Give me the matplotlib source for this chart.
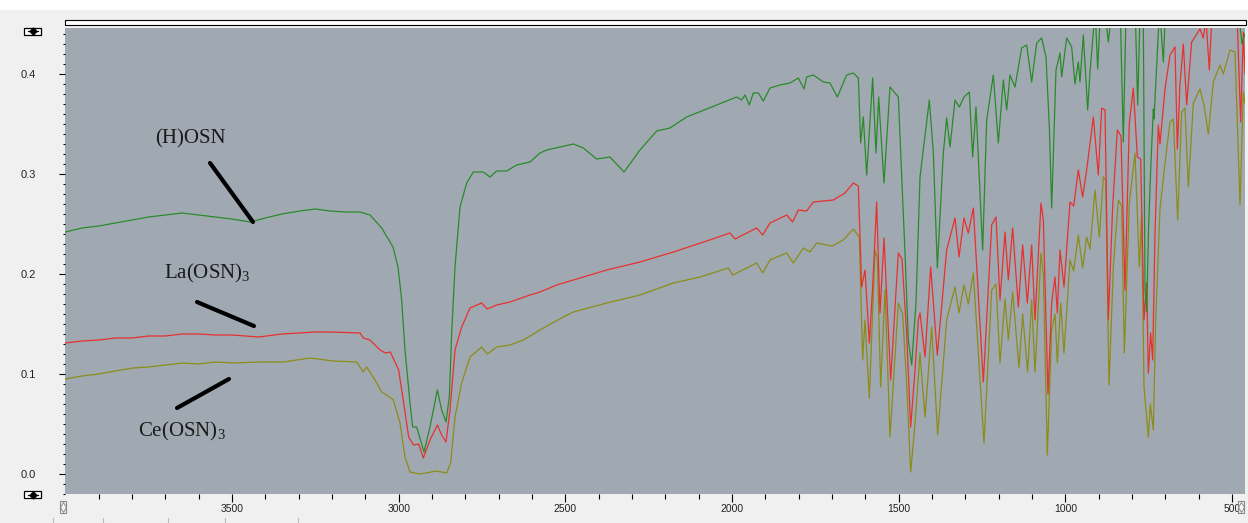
import numpy as np
import matplotlib.pyplot as plt
import matplotlib.patches as mpatches
from matplotlib.lines import Line2D
from matplotlib.ticker import MultipleLocator, FixedLocator, FormatStrFormatter

plt.rcParams['mathtext.fontset'] = 'custom'
plt.rcParams['mathtext.rm'] = 'Liberation Serif'
plt.rcParams['mathtext.default'] = 'regular'

# (H)OSN - green
hosn_wn = [4000, 3950, 3900, 3850, 3800, 3750, 3700, 3650, 3600, 3550, 3500, 3446, 3400, 3350,
           3296, 3250, 3206, 3160, 3116, 3086, 3051, 3017, 3002, 2991, 2981, 2966, 2958, 2946,
           2924, 2906, 2884, 2871, 2858, 2848, 2841, 2831, 2816, 2796, 2776, 2746, 2726, 2706,
           2676, 2646, 2606, 2576, 2556, 2476, 2446, 2406, 2366, 2324, 2276, 2226, 2186, 2136,
           2046, 1986, 1971, 1961, 1948, 1936, 1921, 1906, 1886, 1856, 1826, 1801, 1784, 1776,
           1756, 1726, 1706, 1684, 1656, 1636, 1621, 1614, 1606, 1596, 1578, 1568, 1560, 1544,
           1526, 1501, 1481, 1471, 1461, 1448, 1436, 1408, 1396, 1384, 1366, 1356, 1346, 1331,
           1318, 1304, 1288, 1278, 1268, 1248, 1236, 1216, 1201, 1186, 1176, 1166, 1151, 1131,
           1116, 1101, 1086, 1071, 1058, 1048, 1041, 1028, 1016, 1011, 996, 981, 971, 961, 956,
           946, 933, 926, 916, 910, 903, 895, 880, 871, 862, 835, 826, 818, 790, 783, 776, 766,
           761, 756, 750, 743, 736, 734, 721, 716, 706, 700, 600, 480, 470, 462]
hosn_a = [0.242, 0.246, 0.248, 0.251, 0.254, 0.257, 0.259, 0.261, 0.259, 0.257, 0.255, 0.252,
          0.256, 0.260, 0.263, 0.265, 0.263, 0.262, 0.262, 0.259, 0.246, 0.227, 0.207, 0.174,
          0.124, 0.071, 0.047, 0.047, 0.022, 0.047, 0.084, 0.064, 0.052, 0.077, 0.141, 0.207,
          0.267, 0.291, 0.302, 0.302, 0.297, 0.303, 0.303, 0.309, 0.312, 0.321, 0.324, 0.330,
          0.326, 0.315, 0.317, 0.302, 0.324, 0.343, 0.346, 0.357, 0.369, 0.377, 0.374, 0.379,
          0.369, 0.381, 0.381, 0.373, 0.386, 0.389, 0.391, 0.396, 0.385, 0.397, 0.399, 0.392,
          0.391, 0.377, 0.399, 0.401, 0.396, 0.331, 0.357, 0.299, 0.396, 0.321, 0.377, 0.291,
          0.387, 0.377, 0.221, 0.134, 0.109, 0.171, 0.297, 0.374, 0.321, 0.206, 0.321, 0.356,
          0.327, 0.374, 0.367, 0.377, 0.382, 0.317, 0.367, 0.224, 0.354, 0.399, 0.331, 0.394,
          0.364, 0.399, 0.387, 0.426, 0.429, 0.392, 0.431, 0.436, 0.417, 0.347, 0.266, 0.404,
          0.421, 0.397, 0.436, 0.427, 0.390, 0.412, 0.392, 0.439, 0.364, 0.402, 0.442, 0.460,
          0.405, 0.460, 0.460, 0.432, 0.460, 0.460, 0.332, 0.460, 0.460, 0.369, 0.460, 0.450,
          0.185, 0.162, 0.250, 0.312, 0.365, 0.355, 0.442, 0.460, 0.412, 0.460, 0.470, 0.460,
          0.430, 0.440]

# La(OSN)3 - red
la_wn = [4000, 3950, 3900, 3850, 3800, 3750, 3700, 3650, 3600, 3550, 3500, 3420, 3350, 3250,
         3206, 3116, 3106, 3086, 3056, 3040, 3025, 3000, 2985, 2970, 2955, 2940, 2926, 2906,
         2884, 2871, 2858, 2846, 2831, 2811, 2786, 2751, 2734, 2706, 2666, 2606, 2576, 2526,
         2476, 2376, 2276, 2176, 2076, 2006, 1991, 1926, 1908, 1886, 1836, 1818, 1801, 1776,
         1756, 1696, 1661, 1636, 1621, 1611, 1601, 1588, 1578, 1566, 1556, 1544, 1524, 1501,
         1490, 1476, 1464, 1451, 1441, 1436, 1421, 1404, 1384, 1356, 1331, 1319, 1304, 1291,
         1276, 1246, 1221, 1208, 1196, 1181, 1171, 1158, 1141, 1128, 1114, 1101, 1091, 1073,
         1066, 1052, 1041, 1031, 1024, 1016, 1004, 986, 975, 961, 948, 936, 916, 901, 891, 881,
         871, 858, 844, 833, 821, 808, 796, 784, 774, 764, 756, 751, 744, 738, 731, 721, 716,
         701, 686, 671, 664, 656, 646, 636, 621, 596, 586, 578, 568, 560, 485, 474, 466, 461]
la_a = [0.131, 0.133, 0.134, 0.136, 0.136, 0.138, 0.138, 0.140, 0.140, 0.139, 0.139, 0.137,
        0.140, 0.142, 0.142, 0.141, 0.136, 0.134, 0.124, 0.121, 0.122, 0.104, 0.071, 0.037,
        0.029, 0.030, 0.016, 0.034, 0.049, 0.039, 0.032, 0.064, 0.124, 0.147, 0.166, 0.171,
        0.165, 0.169, 0.172, 0.179, 0.182, 0.189, 0.194, 0.204, 0.212, 0.222, 0.233, 0.241,
        0.235, 0.246, 0.239, 0.251, 0.259, 0.252, 0.264, 0.263, 0.272, 0.274, 0.281, 0.291,
        0.288, 0.187, 0.204, 0.131, 0.187, 0.272, 0.161, 0.236, 0.094, 0.221, 0.215, 0.140,
        0.047, 0.104, 0.154, 0.161, 0.117, 0.207, 0.119, 0.224, 0.256, 0.217, 0.256, 0.241,
        0.266, 0.092, 0.249, 0.257, 0.174, 0.242, 0.194, 0.246, 0.167, 0.229, 0.171, 0.229,
        0.154, 0.271, 0.254, 0.080, 0.171, 0.197, 0.161, 0.224, 0.187, 0.272, 0.268, 0.304,
        0.277, 0.304, 0.357, 0.299, 0.366, 0.364, 0.154, 0.267, 0.344, 0.338, 0.184, 0.351,
        0.386, 0.317, 0.315, 0.154, 0.191, 0.101, 0.141, 0.114, 0.241, 0.349, 0.330, 0.385,
        0.419, 0.427, 0.325, 0.390, 0.430, 0.369, 0.432, 0.445, 0.436, 0.455, 0.404, 0.460,
        0.460, 0.352, 0.442, 0.400]

# Ce(OSN)3 - olive
ce_wn = [4000, 3950, 3900, 3850, 3796, 3750, 3700, 3646, 3600, 3550, 3496, 3420, 3346, 3266,
         3196, 3126, 3106, 3096, 3071, 3051, 3036, 3016, 2996, 2981, 2966, 2936, 2886, 2856,
         2844, 2831, 2811, 2786, 2751, 2734, 2706, 2666, 2626, 2566, 2506, 2476, 2376, 2276,
         2176, 2096, 2011, 1998, 1926, 1908, 1886, 1836, 1816, 1786, 1766, 1746, 1700, 1666,
         1636, 1618, 1608, 1601, 1588, 1571, 1564, 1554, 1541, 1526, 1501, 1488, 1476, 1464,
         1451, 1436, 1421, 1401, 1383, 1356, 1331, 1319, 1304, 1291, 1276, 1244, 1221, 1208,
         1196, 1181, 1171, 1158, 1139, 1128, 1113, 1101, 1091, 1073, 1066, 1054, 1041, 1031,
         1024, 1014, 1004, 986, 975, 961, 948, 936, 926, 911, 898, 886, 879, 869, 856, 841,
         831, 823, 808, 791, 778, 771, 764, 751, 745, 736, 729, 716, 701, 686, 676, 663, 651,
         641, 631, 616, 596, 584, 571, 556, 536, 526, 506, 491, 476, 466, 461]
ce_a = [0.095, 0.098, 0.100, 0.103, 0.106, 0.107, 0.109, 0.111, 0.110, 0.112, 0.111, 0.112,
        0.112, 0.116, 0.113, 0.112, 0.102, 0.107, 0.094, 0.082, 0.079, 0.074, 0.051, 0.017,
        0.002, 0.000, 0.003, 0.001, 0.011, 0.057, 0.091, 0.117, 0.127, 0.120, 0.127, 0.129,
        0.134, 0.146, 0.157, 0.162, 0.171, 0.179, 0.191, 0.197, 0.206, 0.199, 0.211, 0.201,
        0.214, 0.221, 0.211, 0.226, 0.222, 0.231, 0.228, 0.234, 0.245, 0.237, 0.114, 0.154,
        0.076, 0.224, 0.215, 0.087, 0.184, 0.037, 0.171, 0.160, 0.090, 0.002, 0.050, 0.121,
        0.057, 0.147, 0.039, 0.154, 0.187, 0.161, 0.189, 0.170, 0.201, 0.031, 0.184, 0.190,
        0.111, 0.175, 0.134, 0.182, 0.106, 0.160, 0.102, 0.174, 0.102, 0.221, 0.200, 0.019,
        0.144, 0.160, 0.111, 0.171, 0.121, 0.214, 0.203, 0.239, 0.206, 0.237, 0.225, 0.284,
        0.237, 0.297, 0.294, 0.089, 0.207, 0.274, 0.268, 0.121, 0.271, 0.321, 0.207, 0.260,
        0.087, 0.037, 0.070, 0.044, 0.154, 0.265, 0.311, 0.352, 0.355, 0.254, 0.362, 0.366,
        0.287, 0.371, 0.385, 0.369, 0.340, 0.392, 0.409, 0.400, 0.424, 0.422, 0.269, 0.382,
        0.370]

x_major = [3500, 3000, 2500, 2000, 1500, 1000, 500]
x_minor = [w for w in range(3900, 460, -100) if w % 500]

W, H = 1248, 523


def fpx(x, y):
    # pixel position -> figure fraction
    return x / W, 1 - y / H


fig = plt.figure(figsize=(W / 100, H / 100), dpi=100)
fig.patch.set_facecolor('#f0f0f0')

# white strip at the very top and the double frame line
fig.patches.append(mpatches.Rectangle(fpx(0, 10), 1, 10 / H, transform=fig.transFigure,
                                      facecolor='white', edgecolor='none'))
x0, y0 = fpx(65, 24.5)
fig.patches.append(mpatches.Rectangle((x0, y0), (1246 - 65) / W, 4 / H, transform=fig.transFigure,
                                      facecolor='white', edgecolor='black', linewidth=0.8))

ax = fig.add_axes([65 / W, (H - 494) / H, (1245 - 65) / W, (494 - 27.7) / H])
ax.set_facecolor('#a0a9b2')
for s in ax.spines.values():
    s.set_visible(False)

ax.plot(ce_wn, ce_a, color='#8c8c18', lw=0.9)
ax.plot(la_wn, la_a, color='#e8302f', lw=0.9)
ax.plot(hosn_wn, hosn_a, color='#2a8a2a', lw=0.9)

ax.set_xlim(4001, 461)
ax.set_ylim(-0.020, 0.4463)

ax.xaxis.set_major_locator(FixedLocator(x_major))
ax.xaxis.set_minor_locator(FixedLocator(x_minor))
ax.yaxis.set_major_locator(MultipleLocator(0.1))
ax.yaxis.set_minor_locator(MultipleLocator(0.01))
ax.yaxis.set_major_formatter(FormatStrFormatter('%.1f'))
ax.tick_params(axis='x', which='major', length=6, width=0.8, pad=1, labelsize=7.5)
ax.tick_params(axis='x', which='minor', length=3.5, width=0.8)
ax.tick_params(axis='y', which='major', length=4, width=0.8, pad=17, labelsize=8)
ax.tick_params(axis='y', which='minor', length=1.8, width=0.8)
for lab in ax.get_xticklabels() + ax.get_yticklabels():
    lab.set_family('Liberation Sans')
    lab.set_color('#222222')

# annotations
serif = 'Liberation Serif'
ax.text(3626, 0.335, '(H)OSN', fontsize=15, family=serif, color='#1a1a1a', ha='center', va='center')
ax.plot([3566, 3437], [0.311, 0.252], color='black', lw=3, solid_capstyle='round')
ax.text(3575, 0.201, 'La(OSN)$_3$', fontsize=15, family=serif, color='#1a1a1a', ha='center', va='center')
ax.plot([3605, 3434], [0.172, 0.148], color='black', lw=3, solid_capstyle='round')
ax.text(3650, 0.043, 'Ce(OSN)$_3$', fontsize=15, family=serif, color='#1a1a1a', ha='center', va='center')
ax.plot([3665, 3509], [0.066, 0.095], color='black', lw=3, solid_capstyle='round')

# little scroll handles around the plot
for yy in (31, 494.5):
    bx, by = fpx(24, yy + 3.5)
    fig.patches.append(mpatches.Rectangle((bx, by), 17 / W, 7 / H, transform=fig.transFigure,
                                          facecolor='white', edgecolor='black', linewidth=0.9))
    cx, cy = fpx(32.5, yy)
    fig.lines.append(Line2D([cx - 5 / W, cx + 5 / W], [cy, cy], transform=fig.transFigure,
                            color='black', lw=0.9))
    fig.lines.append(Line2D([cx], [cy], transform=fig.transFigure, marker='D', ms=3.5,
                            color='black', lw=0))
for xx in (63, 1241):
    bx, by = fpx(xx - 3, 513)
    fig.patches.append(mpatches.Rectangle((bx, by), 6 / W, 12 / H, transform=fig.transFigure,
                                          facecolor='#f7f7f7', edgecolor='#888888', linewidth=0.8))
    cx, cy = fpx(xx, 507)
    fig.lines.append(Line2D([cx], [cy], transform=fig.transFigure, marker='d', ms=5, mfc='none',
                            mec='#888888', mew=0.7, lw=0))

# status bar separators
for xx in (53, 103, 168, 225, 298):
    a, b = fpx(xx, 518)
    fig.lines.append(Line2D([a, a], [0, b], transform=fig.transFigure, color='#bbbbbb', lw=0.8))

fig.savefig('out.png', dpi=100, facecolor=fig.get_facecolor())
